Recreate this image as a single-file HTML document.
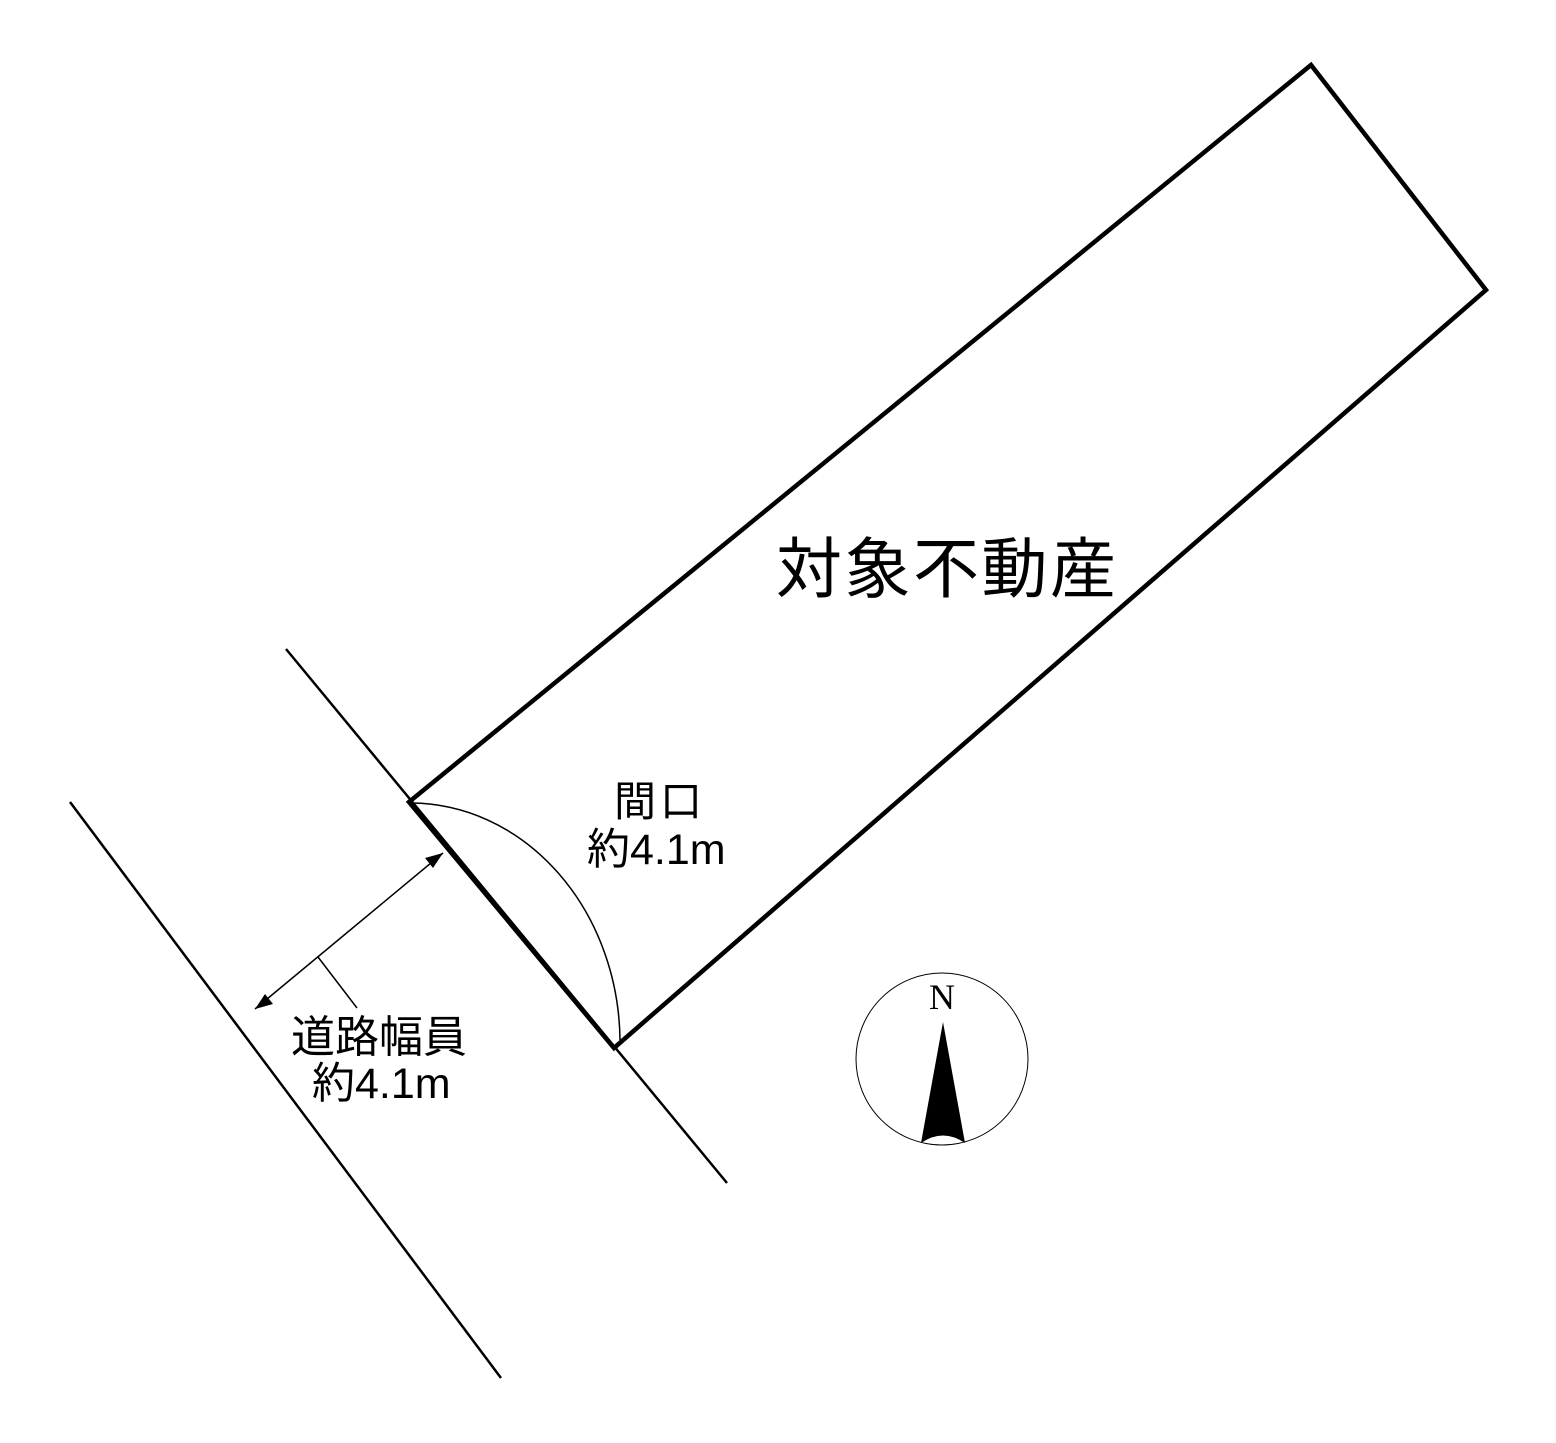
<!DOCTYPE html>
<html><head><meta charset="utf-8"><style>
html,body{margin:0;padding:0;background:#fff;}
svg{display:block;}
text{font-family:"Liberation Sans","Noto Sans CJK JP",sans-serif;fill:#000;}
</style></head><body>
<svg width="1556" height="1443" viewBox="0 0 1556 1443" xmlns="http://www.w3.org/2000/svg">
<line x1="286" y1="649" x2="727" y2="1183" stroke="#000" stroke-width="2.5"/>
<line x1="70" y1="802" x2="501" y2="1378" stroke="#000" stroke-width="2.5"/>
<polygon points="409,802 1311,65 1486,290 614,1048" fill="none" stroke="#000" stroke-width="4.5" stroke-linejoin="miter"/>
<path d="M411,803 A210 240 0 0 1 620,1040" fill="none" stroke="#000" stroke-width="1.5"/>
<line x1="255" y1="1009" x2="443" y2="853" stroke="#000" stroke-width="1.5"/>
<path d="M443,853 L425,858 L433,868 z" fill="#000"/>
<path d="M255,1009 L265,994 L273,1004 z" fill="#000"/>
<line x1="318" y1="957" x2="357" y2="1008" stroke="#000" stroke-width="1.5"/>
<text x="776" y="592" font-size="66" letter-spacing="2.5">対象不動産</text>
<text x="614" y="816" font-size="42" letter-spacing="4">間口</text>
<text x="587" y="864" font-size="43">約4.1m</text>
<text x="291" y="1052" font-size="44">道路幅員</text>
<text x="312" y="1098" font-size="43">約4.1m</text>
<circle cx="942" cy="1059" r="86" fill="none" stroke="#000" stroke-width="1"/>
<text x="942" y="1009" font-size="36" text-anchor="middle" style="font-family:'Liberation Serif',serif">N</text>
<path d="M943,1022 L965,1143 Q943,1128 921,1143 z" fill="#000"/>
</svg>
</body></html>
